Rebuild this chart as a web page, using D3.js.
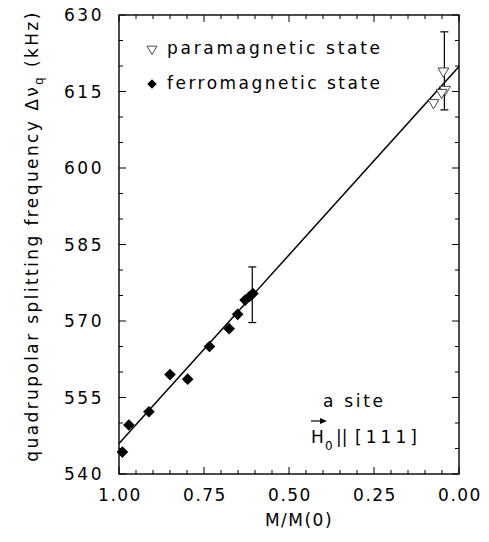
<!DOCTYPE html>
<html>
<head>
<script src="https://d3js.org/d3.v7.min.js"></script>
<style>
  body { margin: 0; background: #fff; }
  text { font-family: "DejaVu Sans", sans-serif; fill: #000; }
</style>
</head>
<body>
<div id="chart"></div>
<script>
// ferromagnetic state (filled diamonds)
var ferroX = [0.990, 0.971, 0.912, 0.850, 0.798, 0.734, 0.676, 0.651, 0.629, 0.616, 0.606];
var ferroY = [544.3, 549.6, 552.2, 559.5, 558.6, 565.0, 568.5, 571.3, 574.1, 574.8, 575.4];
// paramagnetic state (open triangles)
var paraX = [0.046, 0.041, 0.051, 0.075];
var paraY = [619.2, 615.6, 615.0, 613.0];
// error bars [x, low, high]
var errorBars = [[0.608, 569.7, 580.6], [0.043, 611.4, 626.7]];
// linear fit end points
var fitX = [1.0, 0.0];
var fitY = [546.0, 619.9];
var yTicks = [540, 555, 570, 585, 600, 615, 630];
var xTicks = [1.00, 0.75, 0.50, 0.25, 0.00];

var W = 489, H = 542;
var margin = {top: 15, right: 30, bottom: 68, left: 119};
var width = W - margin.left - margin.right;   // 340
var height = H - margin.top - margin.bottom;  // 459

var svg = d3.select("#chart").append("svg")
    .attr("width", W)
    .attr("height", H);

var g = svg.append("g")
    .attr("transform", "translate(" + margin.left + "," + margin.top + ")");

var x = d3.scaleLinear().domain([1, 0]).range([0, width]);
var y = d3.scaleLinear().domain([540, 630]).range([height, 0]);

// minor / major ticks, all pointing inward
var xMinor = d3.range(0, 101, 5).map(d => d / 100);
var yMinor = d3.range(540, 631, 5);

function isMajorX(d) { return Math.abs(d * 4 - Math.round(d * 4)) < 1e-6; }
function isMajorY(d) { return (d - 540) % 15 === 0; }

var ticks = g.append("g").attr("stroke", "#000").attr("stroke-width", 1);
xMinor.forEach(function (d) {
    var len = isMajorX(d) ? 7 : 4;
    ticks.append("line").attr("x1", x(d)).attr("x2", x(d)).attr("y1", height).attr("y2", height - len);
    ticks.append("line").attr("x1", x(d)).attr("x2", x(d)).attr("y1", 0).attr("y2", len);
});
yMinor.forEach(function (d) {
    var len = isMajorY(d) ? 7 : 4;
    ticks.append("line").attr("x1", 0).attr("x2", len).attr("y1", y(d)).attr("y2", y(d));
    ticks.append("line").attr("x1", width).attr("x2", width - len).attr("y1", y(d)).attr("y2", y(d));
});

// frame
g.append("rect")
    .attr("width", width).attr("height", height)
    .attr("fill", "none").attr("stroke", "#000").attr("stroke-width", 1.4);

// tick labels
g.selectAll(".ylab").data(yTicks).enter().append("text")
    .attr("class", "ylab")
    .attr("x", -15)
    .attr("y", d => y(d))
    .attr("dy", "0.36em")
    .attr("text-anchor", "end")
    .attr("font-size", 17)
    .attr("letter-spacing", 2.5)
    .text(d => d);

g.selectAll(".xlab").data(xTicks).enter().append("text")
    .attr("class", "xlab")
    .attr("x", d => x(d) + 1)
    .attr("y", height + 27)
    .attr("text-anchor", "middle")
    .attr("font-size", 17)
    .attr("letter-spacing", 1.5)
    .text(d => d.toFixed(2));

// axis titles
g.append("text")
    .attr("x", 180)
    .attr("y", height + 52)
    .attr("text-anchor", "middle")
    .attr("font-size", 17)
    .attr("letter-spacing", 1.5)
    .text("M/M(0)");

var yt = svg.append("text")
    .attr("transform", "translate(38,236) rotate(-90)")
    .attr("text-anchor", "middle")
    .attr("font-size", 17)
    .attr("letter-spacing", 2.4);
yt.append("tspan").text("quadrupolar splitting frequency \u0394\u03bd");
yt.append("tspan").attr("font-size", 12).attr("dy", 5).text("q");
yt.append("tspan").attr("dy", -5).text(" (kHz)");

// fit line
g.append("line")
    .attr("x1", x(fitX[0])).attr("y1", y(fitY[0]))
    .attr("x2", x(fitX[1])).attr("y2", y(fitY[1]))
    .attr("stroke", "#000").attr("stroke-width", 1.5);

// error bars
var eb = g.selectAll(".eb").data(errorBars).enter().append("g")
    .attr("stroke", "#000").attr("stroke-width", 1.2);
eb.append("line").attr("x1", d => x(d[0])).attr("x2", d => x(d[0]))
    .attr("y1", d => y(d[1])).attr("y2", d => y(d[2]));
eb.append("line").attr("x1", d => x(d[0]) - 4).attr("x2", d => x(d[0]) + 4)
    .attr("y1", d => y(d[1])).attr("y2", d => y(d[1]));
eb.append("line").attr("x1", d => x(d[0]) - 4).attr("x2", d => x(d[0]) + 4)
    .attr("y1", d => y(d[2])).attr("y2", d => y(d[2]));

var diamond = d3.symbol().type(d3.symbolSquare).size(68);
var triangle = d3.symbol().type(d3.symbolTriangle).size(50);

g.selectAll(".ferro").data(ferroX).enter().append("path")
    .attr("d", diamond)
    .attr("transform", (d, i) => "translate(" + x(d) + "," + y(ferroY[i]) + ") rotate(45)")
    .attr("fill", "#000");

g.selectAll(".para").data(paraX).enter().append("path")
    .attr("d", triangle)
    .attr("transform", (d, i) => "translate(" + x(d) + "," + (y(paraY[i]) + 1) + ") rotate(180)")
    .attr("fill", "#fff").attr("stroke", "#333").attr("stroke-width", 0.9);

// legend
svg.append("path").attr("d", d3.symbol().type(d3.symbolTriangle).size(42))
    .attr("transform", "translate(152,49) rotate(180)")
    .attr("fill", "none").attr("stroke", "#333").attr("stroke-width", 0.9);
svg.append("text").attr("x", 167).attr("y", 54)
    .attr("font-size", 17).attr("textLength", 213).attr("lengthAdjust", "spacing")
    .text("paramagnetic state");
svg.append("path").attr("d", d3.symbol().type(d3.symbolSquare).size(44))
    .attr("transform", "translate(152,84) rotate(45)")
    .attr("fill", "#000");
svg.append("text").attr("x", 167).attr("y", 89)
    .attr("font-size", 17).attr("textLength", 213).attr("lengthAdjust", "spacing")
    .text("ferromagnetic state");

// annotation
svg.append("text").attr("x", 323).attr("y", 407)
    .attr("font-size", 17).attr("textLength", 60).attr("lengthAdjust", "spacing")
    .text("a site");
svg.append("text").attr("x", 311).attr("y", 443).attr("font-size", 17).text("H");
svg.append("text").attr("x", 325).attr("y", 450).attr("font-size", 12).text("0");
svg.append("text").attr("x", 336).attr("y", 443).attr("font-size", 17).text("||");
svg.append("text").attr("x", 355).attr("y", 443)
    .attr("font-size", 17).attr("textLength", 62).attr("lengthAdjust", "spacing")
    .text("[111]");
// vector arrow over H
svg.append("line").attr("x1", 311).attr("x2", 325).attr("y1", 421).attr("y2", 421)
    .attr("stroke", "#000").attr("stroke-width", 1.2);
svg.append("path").attr("d", "M327,421 L320,418 L320,424 Z").attr("fill", "#000");
</script>
</body>
</html>
